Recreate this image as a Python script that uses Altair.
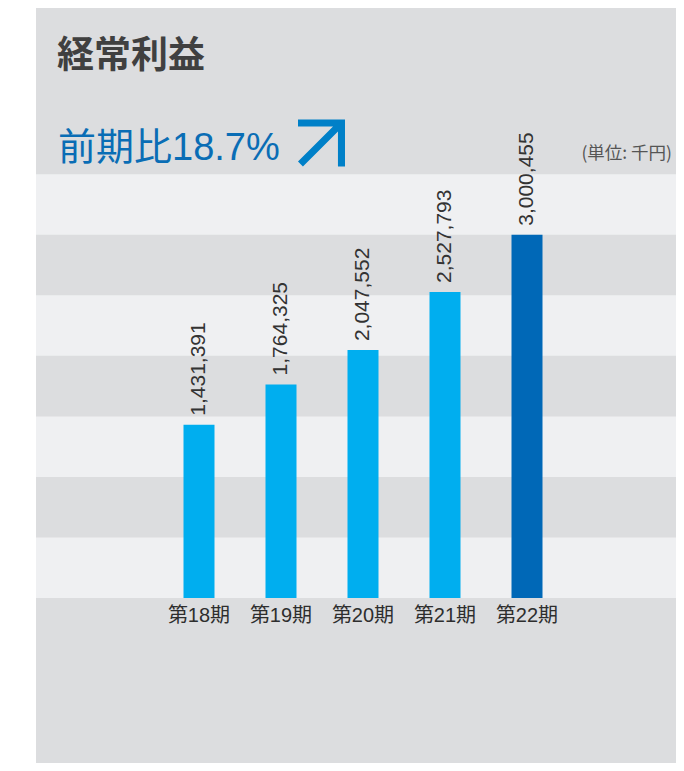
import altair as alt
import pandas as pd

periods = ["第18期", "第19期", "第20期", "第21期", "第22期"]
values = [1431391, 1764325, 2047552, 2527793, 3000455]
bar_colors = ["#00aeef", "#00aeef", "#00aeef", "#00aeef", "#0068b7"]

band_lo = [0, 1000000, 2000000, 3000000]
band_hi = [500000, 1500000, 2500000, 3500000]

title_text = "経常利益"
growth_text = "前期比18.7%"
unit_text = "(単位: 千円)"

W, H = 640, 755
df = pd.DataFrame({"period": periods, "value": values, "col": bar_colors, "zero": [0] * 5})
bands = pd.DataFrame({"lo": band_lo, "hi": band_hi})

yscale = alt.Scale(domain=[-1362900, 4873400], nice=False, zero=False)
xscale = alt.Scale(domain=periods, range=[122, 532], paddingInner=0, paddingOuter=0)

band_layer = alt.Chart(bands).mark_rect(color="#eff0f2").encode(
    x=alt.value(0), x2=alt.value(W),
    y=alt.Y("lo:Q", scale=yscale, axis=None), y2="hi:Q",
)

bars = alt.Chart(df).mark_bar(size=31).encode(
    x=alt.X("period:N", scale=xscale, axis=None, sort=periods),
    y=alt.Y("value:Q", scale=yscale, axis=None),
    y2=alt.Y2("zero:Q"),
    color=alt.Color("col:N", scale=None),
)

value_labels = alt.Chart(df).mark_text(
    angle=270, align="left", baseline="middle", dx=9, fontSize=21,
    font="Liberation Sans", color="#333333",
).encode(
    x=alt.X("period:N", scale=xscale, axis=None, sort=periods),
    y=alt.Y("value:Q", scale=yscale, axis=None),
    text=alt.Text("value:Q", format=","),
)

x_labels = alt.Chart(df).mark_text(
    baseline="middle", dy=18, fontSize=20,
    font="Liberation Sans, Noto Sans CJK JP", color="#2e2e2e",
).encode(
    x=alt.X("period:N", scale=xscale, axis=None, sort=periods),
    y=alt.Y("zero:Q", scale=yscale, axis=None),
    text="period:N",
)

title_df = pd.DataFrame({"t": [title_text]})
title_mark = alt.Chart(title_df).mark_text(
    align="left", baseline="middle", fontSize=37, fontWeight="bold",
    font="Noto Sans CJK JP", color="#404040",
).encode(x=alt.value(21), y=alt.value(49), text="t:N")

growth_df = pd.DataFrame({"t": [growth_text]})
growth_mark = alt.Chart(growth_df).mark_text(
    align="left", baseline="alphabetic", fontSize=38,
    font="Liberation Sans, Noto Sans CJK JP", color="#0a6db5",
).encode(x=alt.value(22), y=alt.value(152), text="t:N")

arrow_path = "M -1 -1 L 1 -1 L 1 1 L 0.7 1 L 0.7 -0.49 L -0.79 1 L -1 0.79 L 0.49 -0.7 L -1 -0.7 Z"
arrow_df = pd.DataFrame({"a": [1]})
arrow_mark = alt.Chart(arrow_df).mark_point(
    shape=arrow_path, filled=True, color="#0080c8", opacity=1, size=2209, strokeWidth=0,
).encode(x=alt.value(285.5), y=alt.value(135))

unit_df = pd.DataFrame({"t": [unit_text]})
unit_mark = alt.Chart(unit_df).mark_text(
    align="right", baseline="middle", fontSize=17.5, font="Noto Sans CJK JP", color="#555555",
).encode(x=alt.value(636), y=alt.value(146), text="t:N")

chart = alt.layer(
    band_layer, bars, value_labels, x_labels, title_mark, growth_mark, arrow_mark, unit_mark
).properties(
    width=W, height=H,
    autosize=alt.AutoSizeParams(type="none"),
    padding={"left": 28, "top": 0, "right": 0, "bottom": 0},
    background="white",
).configure_view(stroke=None, fill="#dcdddf")

chart.save("out.html", embed_options={"renderer": "svg", "actions": False})
